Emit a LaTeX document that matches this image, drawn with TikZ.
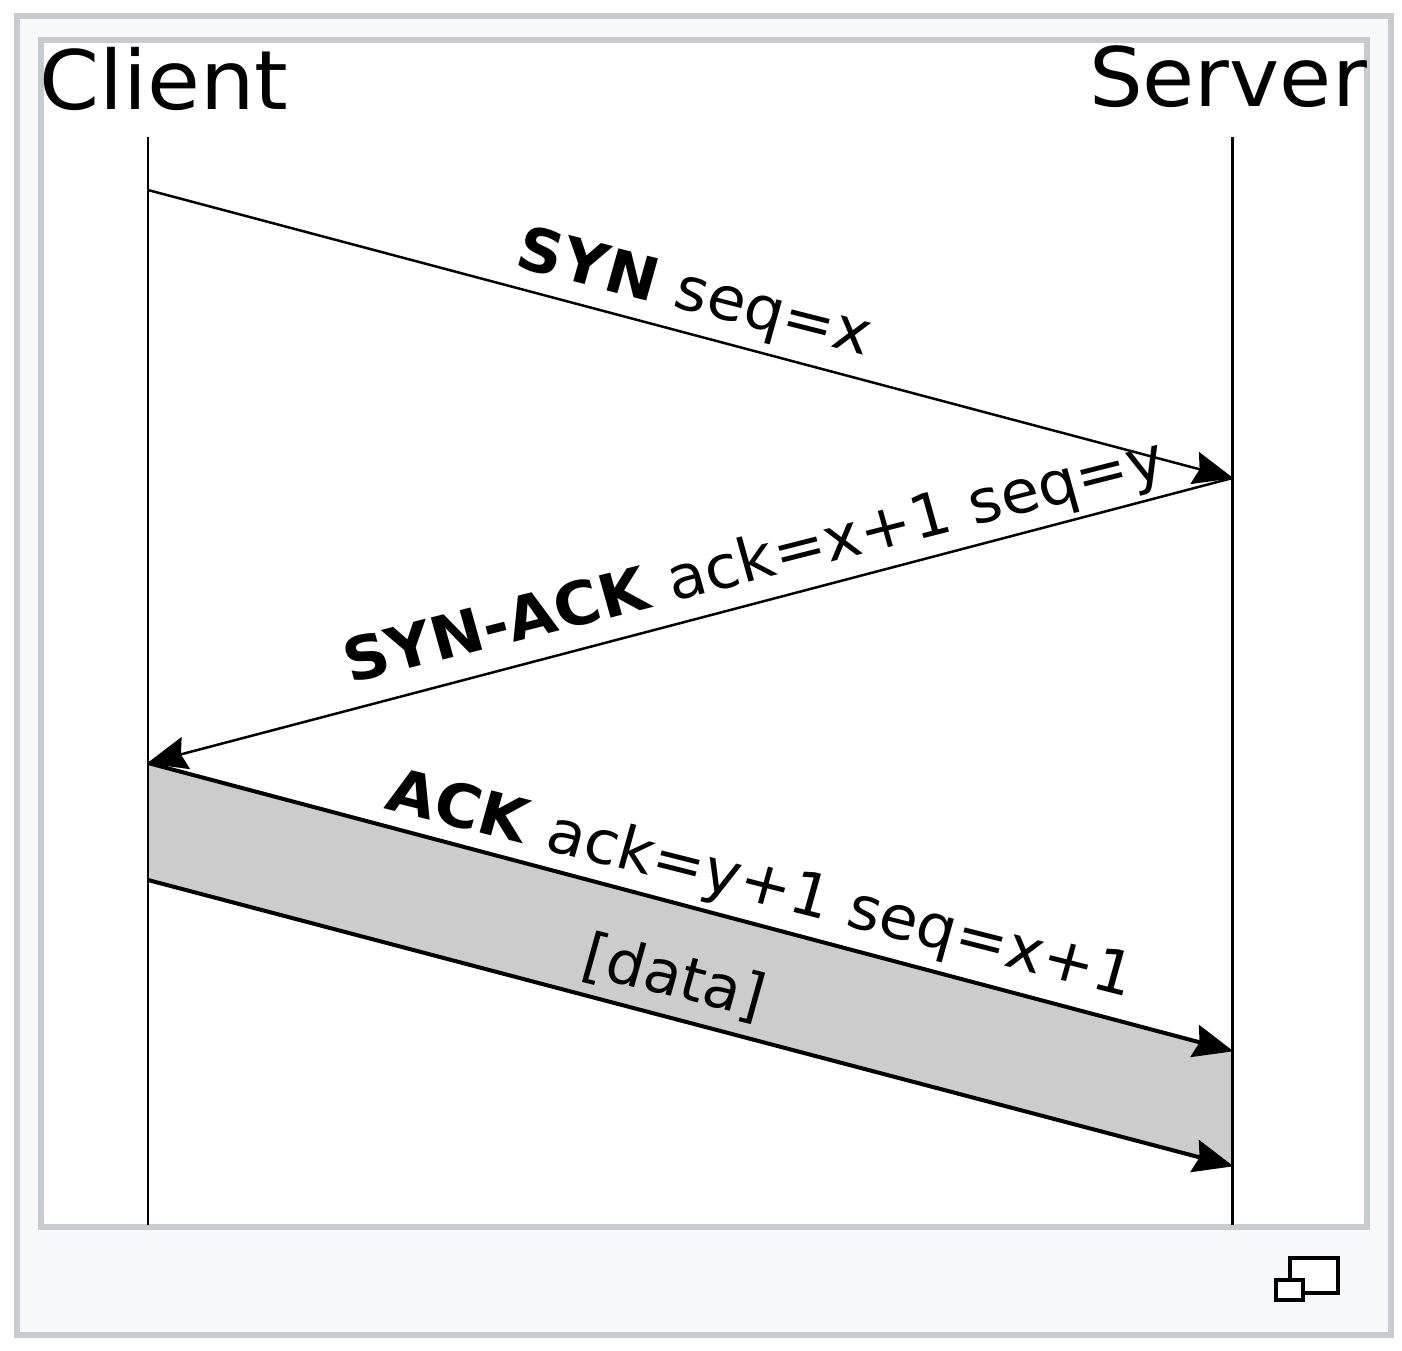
\documentclass[tikz,border=0pt]{standalone}
\usepackage{fontspec}
\setmainfont{DejaVu Sans}
\usetikzlibrary{arrows.meta}

\begin{document}
\begin{tikzpicture}[x=0.01cm, y=-0.01cm,
  framebox/.style={draw=frameedge, line width=0.06cm},
  lifeline/.style={black, line width=0.025cm},
  msg/.style={black, line width=0.025cm, -{Stealth[length=0.4cm, width=0.33cm, inset=0.05cm]}, shorten >=-0.01cm},
  msgdata/.style={msg, line width=0.04cm},
  title/.style={font=\fontsize{23.3}{28}\selectfont, inner sep=0pt, transform shape, xscale=1.05},
  lbl/.style={font=\fontsize{17}{20}\selectfont, inner sep=0pt, transform shape, xscale=1.05},
  icon/.style={draw=black, line width=0.04cm},
]
  \definecolor{frameedge}{HTML}{C8CCD1}
  \definecolor{framefill}{HTML}{F8F9FA}
  \definecolor{datafill}{HTML}{CCCCCC}
  \useasboundingbox (0,0) rectangle (1402,1350);
  \fill[white] (0,0) rectangle (1402,1350);
  % frames
  \filldraw[framebox, fill=framefill] (17,16) rectangle (1391,1335);
  \filldraw[framebox, fill=white] (41,40) rectangle (1367,1227);
  % lifelines
  \coordinate (CT) at (148,137);
  \coordinate (CB) at (148,1225);
  \coordinate (ST) at (1232.5,137);
  \coordinate (SB) at (1232.5,1225);
  \coordinate (syn0) at (148,190);
  \coordinate (syn1) at (1232.5,478);
  \coordinate (sa1) at (148,763);
  \coordinate (ack1) at (1232.5,1051);
  \coordinate (dat0) at (148,880);
  \coordinate (dat1) at (1232.5,1166);
  \fill[datafill] (sa1) -- (ack1) -- (dat1) -- (dat0) -- cycle;
  \draw[lifeline] (CT) -- (CB);
  \draw[lifeline] (ST) -- (SB);
  \draw[msg] (syn0) -- (syn1);
  \draw[msg] (syn1) -- (sa1);
  \draw[msgdata] (sa1) -- (ack1);
  \draw[msgdata] (dat0) -- (dat1);
  \node[title] (client) at (164,79) {Client};
  \node[title, xscale=0.985] (server) at (1228,77) {Server};
  \node[lbl, rotate=-14.9] (synlbl) at (694,296) {\textbf{SYN} seq=x};
  \node[lbl, rotate=14.9] (salbl) at (755,564) {\textbf{SYN-ACK} ack=x+1 seq=y};
  \node[lbl, rotate=-14.9] (acklbl) at (760,887) {\textbf{ACK} ack=y+1 seq=x+1};
  \node[lbl, rotate=-14.9, xscale=0.97] (datalbl) at (674,978) {[data]};
  % enlarge icon
  \draw[icon, fill=white] (1290,1258) rectangle (1338,1293);
  \draw[icon, fill=white] (1276,1280) rectangle (1303,1300);
\end{tikzpicture}
\end{document}
